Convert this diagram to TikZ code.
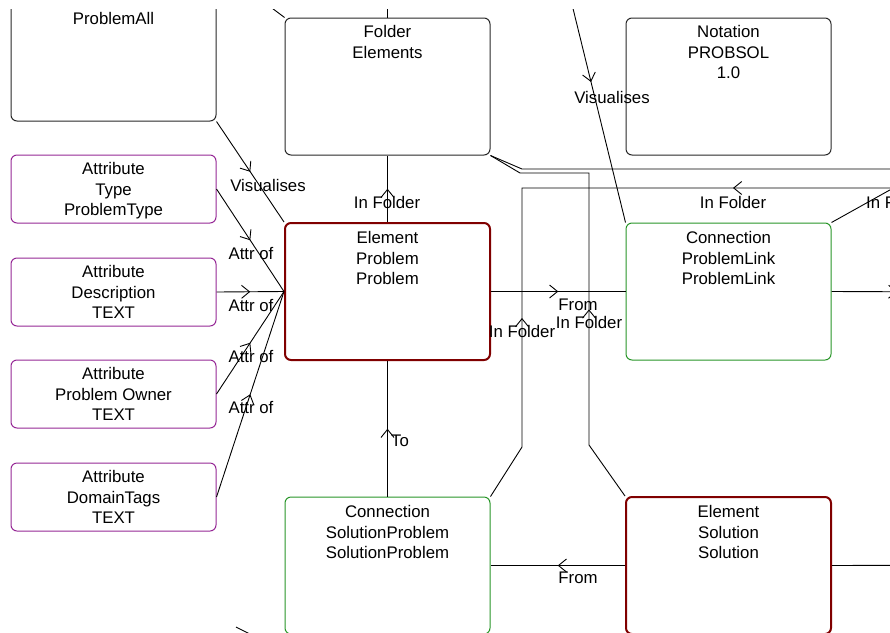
\documentclass[tikz,border=0pt]{standalone}
\usepackage{fontspec}
\setmainfont{Liberation Sans}
\usetikzlibrary{arrows.meta,decorations.markings}
\definecolor{elred}{RGB}{128,0,0}
\definecolor{attrpurple}{RGB}{150,40,150}
\definecolor{conngreen}{RGB}{40,150,40}
\definecolor{plainline}{RGB}{40,40,40}
\tikzset{
  box/.style={draw=plainline, rounded corners=6pt, minimum width=205pt, minimum height=137pt, inner sep=0pt, line width=1pt},
  elbox/.style={box, draw=elred, line width=2pt},
  attrbox/.style={box, draw=attrpurple, minimum height=68pt},
  connbox/.style={box, draw=conngreen},
  txt/.style={font=\fontsize{16.8}{20.5}\selectfont, align=center, inner sep=0pt, anchor=north},
  lbl/.style={font=\fontsize{16.8}{20}\selectfont, inner sep=0pt},
  conn/.style={draw=black, line width=0.9pt},
  midarrow/.style={postaction={decorate,decoration={markings,mark=at position #1 with {\arrow{Straight Barb[length=8pt,width=13pt]}}}}},
}
\begin{document}
\begin{tikzpicture}[x=1pt,y=-1pt]
\useasboundingbox (0,0) rectangle (890,632);
\fill[white] (0,0) rectangle (890,632);
\begin{scope}
\clip (0,9) rectangle (890,632);
% boxes
\node[box] (pa) at (113.5,52.5) {};
\node[txt] (pat) at (113.5,12.5) {ProblemAll};
\node[box] (fld) at (387.5,86.5) {};
\node[txt] (fldt) at (387.5,25.5) {Folder\\Elements};
\node[box] (nota) at (728.5,86.5) {};
\node[txt] (notat) at (728.5,25.5) {Notation\\PROBSOL\\1.0};
\node[attrbox] (at1) at (113.5,189) {};
\node[txt] (at1t) at (113.5,162.5) {Attribute\\Type\\ProblemType};
\node[attrbox] (at2) at (113.5,292) {};
\node[txt] (at2t) at (113.5,265.5) {Attribute\\Description\\TEXT};
\node[attrbox] (at3) at (113.5,394) {};
\node[txt] (at3t) at (113.5,367.5) {Attribute\\Problem Owner\\TEXT};
\node[attrbox] (at4) at (113.5,497) {};
\node[txt] (at4t) at (113.5,470.5) {Attribute\\DomainTags\\TEXT};
\node[elbox] (ep) at (387.5,291.5) {};
\node[txt] (ept) at (387.5,231.5) {Element\\Problem\\Problem};
\node[connbox] (pl) at (728.5,291.5) {};
\node[txt] (plt) at (728.5,231.5) {Connection\\ProblemLink\\ProblemLink};
\node[connbox] (sp) at (387.5,565.5) {};
\node[txt] (spt) at (387.5,505.5) {Connection\\SolutionProblem\\SolutionProblem};
\node[elbox] (sol) at (728.5,565.5) {};
\node[txt] (solt) at (728.5,505.5) {Element\\Solution\\Solution};
% free ends
\coordinate (r1) at (963,292);
\coordinate (r2) at (1000,565);
\coordinate (a1) at (1000,169);
\coordinate (c1) at (960,188);
\coordinate (d1) at (949,157);
\coordinate (t1) at (260,-1);
\coordinate (t2) at (387.5,-5);
\coordinate (v1) at (566,-20);
\coordinate (b1) at (236,627);
\coordinate (b2) at (262,640);
% connectors
\draw[conn, midarrow=0.5] (pa.south east) -- (ep.north west);
\draw[conn, midarrow=0.5] (at1.east) -- (ep.west);
\draw[conn, midarrow=0.5] (at2.east) -- (ep.west);
\draw[conn, midarrow=0.5] (at3.east) -- (ep.west);
\draw[conn, midarrow=0.5] (at4.east) -- (ep.west);
\draw[conn, midarrow=0.5] (ep.north) -- (fld.south);
\draw[conn, midarrow=0.5] (ep.east) -- (pl.west);
\draw[conn, midarrow=0.5] (sp.north) -- (ep.south);
\draw[conn, midarrow=0.5] (sol.west) -- (sp.east);
\draw[conn, midarrow=0.5] (pl.east) -- (r1);
\draw[conn] (sol.east) -- (r2);
\draw[conn] (fld.south east) -- (522,169) -- (a1);
\draw[conn, midarrow=198pt] (sol.north west) -- (589,445) -- (589,173) -- (520,173) -- (fld.south east);
\draw[conn, postaction={decorate,decoration={markings,
   mark=at position 227pt with {\arrow{Straight Barb[length=8pt,width=13pt]}},
   mark=at position 568pt with {\arrowreversed{Straight Barb[length=8pt,width=13pt]}}}}]
   (c1) -- (522,188) -- (522,447) -- (sp.north east);
\draw[conn] (pl.north east) -- (d1);
\draw[conn] (t1) -- (fld.north west);
\draw[conn] (t2) -- (fld.north);
\draw[conn, midarrow=105pt] (v1) -- (pl.north west);
\draw[conn] (b1) -- (b2);
% labels
\node[lbl] (l1) at (268,185) {Visualises};
\node[lbl] (l2) at (251,253) {Attr of};
\node[lbl] (l3) at (251,305) {Attr of};
\node[lbl] (l4) at (251,356) {Attr of};
\node[lbl] (l5) at (251,407) {Attr of};
\node[lbl] (l6) at (387,202) {In Folder};
\node[lbl] (l7) at (578,305) {From};
\node[lbl] (l8) at (589,322) {In Folder};
\node[lbl] (l9) at (522,331) {In Folder};
\node[lbl] (l10) at (733,202) {In Folder};
\node[lbl] (l11) at (400,441) {To};
\node[lbl] (l12) at (578,578) {From};
\node[lbl] (l13) at (612,97) {Visualises};
\node[lbl, anchor=west] (l14) at (866,202) {In Folder};
\end{scope}
\end{tikzpicture}
\end{document}
